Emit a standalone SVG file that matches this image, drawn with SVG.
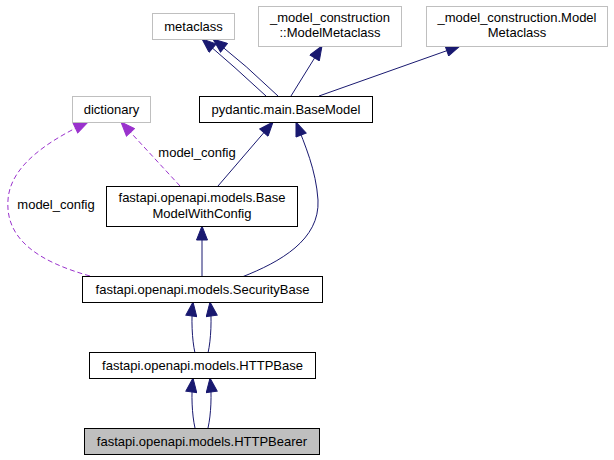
<svg xmlns="http://www.w3.org/2000/svg" width="614" height="460" viewBox="0 0 614 460">
<style>
.n rect{fill:#fff;stroke:#000;stroke-width:1}
.ext rect{stroke:#bfbfbf}
#HTTPBearer rect{fill:#bfbfbf}
text{font-family:"Liberation Sans",Arial,sans-serif;font-size:13px;fill:#000;text-anchor:middle}
.e{fill:none;stroke:#191970;stroke-width:1}
.d{fill:none;stroke:#9a32cd;stroke-width:1;stroke-dasharray:5,3}
</style>
<defs>
<marker id="a" markerUnits="userSpaceOnUse" markerWidth="16" markerHeight="12" refX="14" refY="5.5" orient="auto" viewBox="-1 -0.5 16 12">
<path d="M0,0 L14,5.5 L0,11 z" fill="#191970" stroke="#191970"/>
</marker>
<marker id="p" markerUnits="userSpaceOnUse" markerWidth="16" markerHeight="12" refX="14" refY="5.5" orient="auto" viewBox="-1 -0.5 16 12">
<path d="M0,0 L14,5.5 L0,11 z" fill="#9a32cd" stroke="#9a32cd"/>
</marker>
</defs>
<g id="edges">
<path class="e" marker-end="url(#a)" d="M266,96 Q236,68 202,39"/>
<path class="e" marker-end="url(#a)" d="M278,96 Q247,66 213,39"/>
<path class="e" marker-end="url(#a)" d="M291,96 L322,46"/>
<path class="e" marker-end="url(#a)" d="M319,96 L460,46"/>
<path class="e" marker-end="url(#a)" d="M218,186 L273,122"/>
<path class="d" marker-end="url(#p)" d="M180,186 L121,122"/>
<text x="197" y="157">model_config</text>
<path class="d" marker-end="url(#p)" d="M90,276 C40,262 5,240 8,200 C10,165 50,140 88,122"/>
<text x="56" y="209">model_config</text>
<path class="e" marker-end="url(#a)" d="M202,277 L202,226"/>
<path class="e" marker-end="url(#a)" d="M242,277 C280,262 320,240 318,200 C316,170 305,145 296,122"/>
<path class="e" marker-end="url(#a)" d="M195,353 C192,340 191,318 193,302"/>
<path class="e" marker-end="url(#a)" d="M208,353 C211,340 212,318 210,302"/>
<path class="e" marker-end="url(#a)" d="M195,428 C192,415 191,394 193,378"/>
<path class="e" marker-end="url(#a)" d="M208,428 C211,415 212,394 210,378"/>
</g>
<g id="metaclass" class="n ext"><rect x="152.5" y="13.5" width="82" height="26"/><text x="193.5" y="30.5">metaclass</text></g>
<g id="ModelMetaclass1" class="n ext"><rect x="258.5" y="6.5" width="143" height="40"/><text x="330" y="21.5">_model_construction</text><text x="330" y="36.5">::ModelMetaclass</text></g>
<g id="ModelMetaclass2" class="n ext"><rect x="426.5" y="6.5" width="181" height="40"/><text x="517" y="21.5">_model_construction.Model</text><text x="517" y="36.5">Metaclass</text></g>
<g id="dictionary" class="n ext"><rect x="72.5" y="96.5" width="78" height="26"/><text x="111.5" y="113.5">dictionary</text></g>
<g id="BaseModel" class="n"><rect x="199.5" y="96.5" width="173" height="26"/><text x="286" y="113.5">pydantic.main.BaseModel</text></g>
<g id="BaseModelWithConfig" class="n"><rect x="106.5" y="186.5" width="191" height="40"/><text x="202" y="201.5">fastapi.openapi.models.Base</text><text x="202" y="217.5">ModelWithConfig</text></g>
<g id="SecurityBase" class="n"><rect x="82.5" y="276.5" width="240" height="26"/><text x="202.5" y="293.5">fastapi.openapi.models.SecurityBase</text></g>
<g id="HTTPBase" class="n"><rect x="89.5" y="352.5" width="226" height="26"/><text x="202.5" y="369.5">fastapi.openapi.models.HTTPBase</text></g>
<g id="HTTPBearer" class="n"><rect x="84.5" y="428.5" width="235" height="26"/><text x="202" y="445.5">fastapi.openapi.models.HTTPBearer</text></g>
</svg>
